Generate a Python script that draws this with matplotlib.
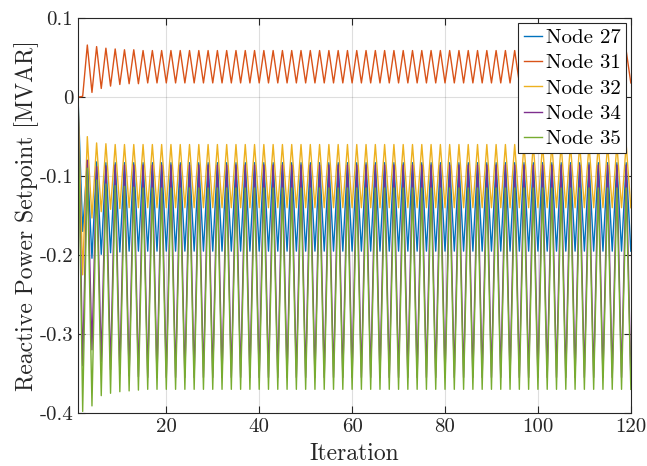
import matplotlib
matplotlib.use("Agg")
import matplotlib.pyplot as plt
import numpy as np

plt.rcParams['font.family'] = 'serif'
plt.rcParams['font.serif'] = ['cmr10']
plt.rcParams['axes.unicode_minus'] = False
plt.rcParams['mathtext.fontset'] = 'cm'

# reactive power setpoints per iteration
node27 = [
    0.000, -0.170, -0.080, -0.204, -0.082, -0.199, -0.083, -0.197, -0.083, -0.196,
    -0.083, -0.195, -0.083, -0.195, -0.083, -0.195, -0.083, -0.195, -0.083, -0.195,
    -0.083, -0.195, -0.083, -0.195, -0.083, -0.195, -0.083, -0.195, -0.083, -0.195,
    -0.083, -0.195, -0.083, -0.195, -0.083, -0.195, -0.083, -0.195, -0.083, -0.195,
    -0.083, -0.195, -0.083, -0.195, -0.083, -0.195, -0.083, -0.195, -0.083, -0.195,
    -0.083, -0.195, -0.083, -0.195, -0.083, -0.195, -0.083, -0.195, -0.083, -0.195,
    -0.083, -0.195, -0.083, -0.195, -0.083, -0.195, -0.083, -0.195, -0.083, -0.195,
    -0.083, -0.195, -0.083, -0.195, -0.083, -0.195, -0.083, -0.195, -0.083, -0.195,
    -0.083, -0.195, -0.083, -0.195, -0.083, -0.195, -0.083, -0.195, -0.083, -0.195,
    -0.083, -0.195, -0.083, -0.195, -0.083, -0.195, -0.083, -0.195, -0.083, -0.195,
    -0.083, -0.195, -0.083, -0.195, -0.083, -0.195, -0.083, -0.195, -0.083, -0.195,
    -0.083, -0.195, -0.083, -0.195, -0.083, -0.195, -0.083, -0.195, -0.083, -0.195,
]
node31 = [
    0.000, 0.001, 0.066, 0.006, 0.064, 0.011, 0.062, 0.014, 0.061, 0.016,
    0.060, 0.017, 0.060, 0.017, 0.059, 0.018, 0.059, 0.018, 0.059, 0.018,
    0.059, 0.018, 0.059, 0.018, 0.059, 0.018, 0.059, 0.018, 0.059, 0.018,
    0.059, 0.018, 0.059, 0.018, 0.059, 0.018, 0.059, 0.018, 0.059, 0.018,
    0.059, 0.018, 0.059, 0.018, 0.059, 0.018, 0.059, 0.018, 0.059, 0.018,
    0.059, 0.018, 0.059, 0.018, 0.059, 0.018, 0.059, 0.018, 0.059, 0.018,
    0.059, 0.018, 0.059, 0.018, 0.059, 0.018, 0.059, 0.018, 0.059, 0.018,
    0.059, 0.018, 0.059, 0.018, 0.059, 0.018, 0.059, 0.018, 0.059, 0.018,
    0.059, 0.018, 0.059, 0.018, 0.059, 0.018, 0.059, 0.018, 0.059, 0.018,
    0.059, 0.018, 0.059, 0.018, 0.059, 0.018, 0.059, 0.018, 0.059, 0.018,
    0.059, 0.018, 0.059, 0.018, 0.059, 0.018, 0.059, 0.018, 0.059, 0.018,
    0.059, 0.018, 0.059, 0.018, 0.059, 0.018, 0.059, 0.018, 0.059, 0.018,
]
node32 = [
    0.000, -0.225, -0.050, -0.153, -0.058, -0.145, -0.059, -0.142, -0.060, -0.141,
    -0.060, -0.140, -0.060, -0.140, -0.060, -0.140, -0.060, -0.140, -0.060, -0.140,
    -0.060, -0.140, -0.060, -0.140, -0.060, -0.140, -0.060, -0.140, -0.060, -0.140,
    -0.060, -0.140, -0.060, -0.140, -0.060, -0.140, -0.060, -0.140, -0.060, -0.140,
    -0.060, -0.140, -0.060, -0.140, -0.060, -0.140, -0.060, -0.140, -0.060, -0.140,
    -0.060, -0.140, -0.060, -0.140, -0.060, -0.140, -0.060, -0.140, -0.060, -0.140,
    -0.060, -0.140, -0.060, -0.140, -0.060, -0.140, -0.060, -0.140, -0.060, -0.140,
    -0.060, -0.140, -0.060, -0.140, -0.060, -0.140, -0.060, -0.140, -0.060, -0.140,
    -0.060, -0.140, -0.060, -0.140, -0.060, -0.140, -0.060, -0.140, -0.060, -0.140,
    -0.060, -0.140, -0.060, -0.140, -0.060, -0.140, -0.060, -0.140, -0.060, -0.140,
    -0.060, -0.140, -0.060, -0.140, -0.060, -0.140, -0.060, -0.140, -0.060, -0.140,
    -0.060, -0.140, -0.060, -0.140, -0.060, -0.140, -0.060, -0.140, -0.060, -0.140,
]
node34 = [
    0.000, -0.340, -0.080, -0.320, -0.088, -0.335, -0.087, -0.345, -0.086, -0.350,
    -0.086, -0.353, -0.086, -0.354, -0.086, -0.355, -0.086, -0.355, -0.086, -0.355,
    -0.086, -0.355, -0.086, -0.355, -0.086, -0.355, -0.086, -0.355, -0.086, -0.355,
    -0.086, -0.355, -0.086, -0.355, -0.086, -0.355, -0.086, -0.355, -0.086, -0.355,
    -0.086, -0.355, -0.086, -0.355, -0.086, -0.355, -0.086, -0.355, -0.086, -0.355,
    -0.086, -0.355, -0.086, -0.355, -0.086, -0.355, -0.086, -0.355, -0.086, -0.355,
    -0.086, -0.355, -0.086, -0.355, -0.086, -0.355, -0.086, -0.355, -0.086, -0.355,
    -0.086, -0.355, -0.086, -0.355, -0.086, -0.355, -0.086, -0.355, -0.086, -0.355,
    -0.086, -0.355, -0.086, -0.355, -0.086, -0.355, -0.086, -0.355, -0.086, -0.355,
    -0.086, -0.355, -0.086, -0.355, -0.086, -0.355, -0.086, -0.355, -0.086, -0.355,
    -0.086, -0.355, -0.086, -0.355, -0.086, -0.355, -0.086, -0.355, -0.086, -0.355,
    -0.086, -0.355, -0.086, -0.355, -0.086, -0.355, -0.086, -0.355, -0.086, -0.355,
]
node35 = [
    0.000, -0.398, -0.090, -0.391, -0.105, -0.378, -0.110, -0.375, -0.112, -0.373,
    -0.113, -0.372, -0.114, -0.371, -0.115, -0.370, -0.115, -0.370, -0.115, -0.370,
    -0.115, -0.370, -0.115, -0.370, -0.115, -0.370, -0.115, -0.370, -0.115, -0.370,
    -0.115, -0.370, -0.115, -0.370, -0.115, -0.370, -0.115, -0.370, -0.115, -0.370,
    -0.115, -0.370, -0.115, -0.370, -0.115, -0.370, -0.115, -0.370, -0.115, -0.370,
    -0.115, -0.370, -0.115, -0.370, -0.115, -0.370, -0.115, -0.370, -0.115, -0.370,
    -0.115, -0.370, -0.115, -0.370, -0.115, -0.370, -0.115, -0.370, -0.115, -0.370,
    -0.115, -0.370, -0.115, -0.370, -0.115, -0.370, -0.115, -0.370, -0.115, -0.370,
    -0.115, -0.370, -0.115, -0.370, -0.115, -0.370, -0.115, -0.370, -0.115, -0.370,
    -0.115, -0.370, -0.115, -0.370, -0.115, -0.370, -0.115, -0.370, -0.115, -0.370,
    -0.115, -0.370, -0.115, -0.370, -0.115, -0.370, -0.115, -0.370, -0.115, -0.370,
    -0.115, -0.370, -0.115, -0.370, -0.115, -0.370, -0.115, -0.370, -0.115, -0.370,
]

labels = ['Node 27', 'Node 31', 'Node 32', 'Node 34', 'Node 35']
colors = ['#0072BD', '#D95319', '#EDB120', '#7E2F8E', '#77AC30']
xticks = [20, 40, 60, 80, 100, 120]
yticks = [-0.4, -0.3, -0.2, -0.1, 0, 0.1]
ytick_labels = ['-0.4', '-0.3', '-0.2', '-0.1', '0', '0.1']

iters = np.arange(1, len(node27) + 1)

fig = plt.figure(figsize=(6.47, 4.66), dpi=100)
ax = fig.add_axes([0.1206, 0.1137, 0.8544, 0.8473])

for vals, lab, col in zip([node27, node31, node32, node34, node35], labels, colors):
    ax.plot(iters, vals, color=col, lw=1.0, label=lab)

ax.set_xlim(1, 120)
ax.set_ylim(-0.4, 0.1)
ax.set_xticks(xticks)
ax.set_yticks(yticks)
ax.set_yticklabels(ytick_labels)
ax.grid(True, color='#262626', alpha=0.15, lw=0.8)
ax.set_axisbelow(True)

ax.tick_params(direction='in', top=True, right=True, length=5, width=0.8,
               labelsize=15, colors='#262626')
for sp in ax.spines.values():
    sp.set_color('#262626')
    sp.set_linewidth(0.8)

ax.set_xlabel('Iteration', fontsize=17, color='#262626', labelpad=5)
ax.set_ylabel('Reactive Power Setpoint [MVAR]', fontsize=17, color='#262626', labelpad=0)

leg = ax.legend(loc='upper right', fontsize=15, fancybox=False, framealpha=1,
                edgecolor='#262626', handlelength=0.9, handletextpad=0.15,
                borderaxespad=0.25, borderpad=0.25, labelspacing=0.32)
leg.get_frame().set_linewidth(0.8)

fig.savefig('out.png', dpi=100)
